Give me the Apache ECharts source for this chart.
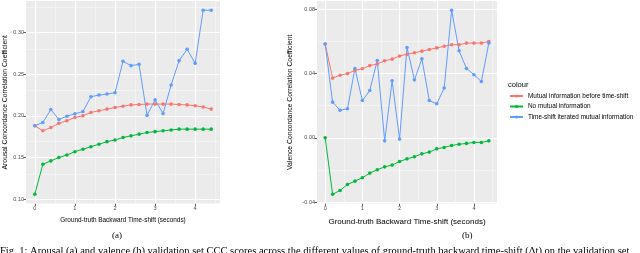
<!DOCTYPE html>
<html><head><meta charset="utf-8">
<script src="https://cdn.jsdelivr.net/npm/echarts@6/dist/echarts.min.js"></script>
<style>html,body{margin:0;padding:0;background:#fff}#c{width:640px;height:253px}</style>
</head><body><div id="c"></div>
<script>
const timeShift = [0,0.2,0.4,0.6,0.8,1.0,1.2,1.4,1.6,1.8,2.0,2.2,2.4,2.6,2.8,3.0,3.2,3.4,3.6,3.8,4.0,4.2,4.4];
const xTicks = [0,1,2,3,4];
const xMinor = [0.5,1.5,2.5,3.5,4.5];
const arousalTicks = [0.10,0.15,0.20,0.25,0.30];
const arousalMinor = [0.125,0.175,0.225,0.275,0.325];
const valenceTicks = [-0.04,0,0.04,0.08];
const valenceMinor = [-0.02,0.02,0.06];
const seriesNames = ['Mutual information before time-shift','No mutual information','Time-shift iterated mutual information'];
const seriesColors = ['#F8766D','#00BA38','#619CFF'];

const arousalMutualBefore = [0.188,0.182,0.186,0.191,0.194,0.198,0.200,0.204,0.206,0.208,0.210,0.2115,0.213,0.2135,0.214,0.214,0.214,0.214,0.2135,0.213,0.212,0.2105,0.208];
const arousalNoMutual = [0.106,0.142,0.146,0.150,0.153,0.157,0.160,0.163,0.166,0.169,0.171,0.174,0.176,0.178,0.180,0.181,0.182,0.183,0.184,0.184,0.184,0.184,0.184];
const arousalIterated = [0.188,0.192,0.2075,0.1955,0.1995,0.2023,0.205,0.2228,0.2248,0.226,0.2276,0.2652,0.260,0.2616,0.2005,0.219,0.2027,0.2368,0.266,0.2796,0.2628,0.3264,0.3264];

const valenceMutualBefore = [0.0584,0.0372,0.0390,0.0400,0.0420,0.0430,0.0450,0.0460,0.0480,0.0490,0.0510,0.0520,0.0530,0.0540,0.0550,0.0560,0.0570,0.0580,0.0580,0.0590,0.0590,0.0590,0.0600];
const valenceNoMutual = [0.000,-0.0352,-0.0328,-0.0291,-0.0270,-0.0249,-0.0220,-0.0199,-0.0181,-0.0170,-0.0148,-0.0131,-0.0118,-0.0100,-0.0089,-0.0069,-0.0060,-0.0048,-0.0040,-0.0035,-0.0029,-0.0029,-0.0019];
const valenceIterated = [0.0584,0.0222,0.0172,0.0181,0.0432,0.0232,0.0295,0.0482,-0.0019,0.0355,-0.0008,0.0563,0.0361,0.0492,0.0232,0.0212,0.0310,0.0795,0.0542,0.0432,0.0393,0.0351,0.0590];

const captionText = 'Fig. 1: Arousal (a) and valence (b) validation set CCC scores across the different values of ground-truth backward time-shift (\u0394t) on the validation set';

function expand(arrs){
  const all=[].concat(...arrs); const mn=Math.min(...all), mx=Math.max(...all); const r=mx-mn;
  return [mn-0.05*r, mx+0.05*r];
}
const xExt = expand([timeShift]);
const aExt = expand([arousalMutualBefore,arousalNoMutual,arousalIterated]);
const vExt = expand([valenceMutualBefore,valenceNoMutual,valenceIterated]);

const FONT='Liberation Sans';
function axis(gridIndex, ext, ticks, isY, name, nameSize, nameGap, labelSize, decimals){
  return {type:'value', gridIndex, min:ext[0], max:ext[1],
    name, nameLocation:'middle', nameGap, nameRotate: isY?90:0,
    nameTextStyle:{fontFamily:FONT, fontSize:nameSize, color:'#000'},
    axisLine:{show:false, onZero:false},
    axisTick:{show:true, customValues:ticks, length:2.5, lineStyle:{color:'#333', width:0.8}},
    axisLabel:{customValues:ticks, fontFamily:FONT, fontSize:labelSize, color:'#4D4D4D', margin:2,
      formatter: v => decimals!=null ? Number(v).toFixed(decimals) : String(Math.round(v))},
    splitLine:{show:false}};
}
function gridLines(xi, yi, xMaj, xMin, yMaj, yMin){
  const major = {color:'#FFFFFF', width:1.2, type:'solid'};
  const minor = {color:'#F7F7F7', width:0.7, type:'solid'};
  const d = [];
  xMin.forEach(v=>d.push({xAxis:v, lineStyle:minor}));
  yMin.forEach(v=>d.push({yAxis:v, lineStyle:minor}));
  xMaj.forEach(v=>d.push({xAxis:v, lineStyle:major}));
  yMaj.forEach(v=>d.push({yAxis:v, lineStyle:major}));
  return {type:'line', xAxisIndex:xi, yAxisIndex:yi, data:[], z:1, silent:true,
    markLine:{silent:true, z:1, symbol:['none','none'], label:{show:false}, animation:false, data:d}};
}
function mk(name, color, data, xi, yi){
  return {type:'line', name, xAxisIndex:xi, yAxisIndex:yi, data: timeShift.map((t,i)=>[t,data[i]]), z:3,
    symbol:'circle', symbolSize:3.6, showSymbol:true, color,
    lineStyle:{width:1, color}, itemStyle:{color}};
}

const chart = echarts.init(document.getElementById('c'), null, {renderer:'canvas'});
chart.setOption({
  animation:false,
  backgroundColor:'#fff',
  grid:[
    {left:26, top:1, width:194, height:202.5, show:true, backgroundColor:'#EBEBEB', borderWidth:0, z:0},
    {left:317, top:1, width:180, height:202.5, show:true, backgroundColor:'#EBEBEB', borderWidth:0, z:0}
  ],
  xAxis:[
    axis(0, xExt, xTicks, false, 'Ground-truth Backward Time-shift (seconds)', 6.4, 14, 5.5, null),
    axis(1, xExt, xTicks, false, 'Ground-truth Backward Time-shift (seconds)', 8, 14, 5.5, null)
  ],
  yAxis:[
    axis(0, aExt, arousalTicks, true, 'Arousal Concordance Correlation Coefficient', 6.8, 17, 5.5, 2),
    axis(1, vExt, valenceTicks, true, 'Valence Concordance Correlation Coefficient', 6.8, 23, 5.5, 2)
  ],
  title:{text:'colour', left:508, top:81, padding:0, textStyle:{fontFamily:FONT, fontSize:7.5, fontWeight:'normal', color:'#000'}},
  legend:{data:seriesNames, orient:'vertical', left:509, top:93, padding:0, itemWidth:13, itemHeight:4, itemGap:4.5,
    textStyle:{fontFamily:FONT, fontSize:6.4, color:'#000'}},
  graphic:[
    {type:'text', left:112, top:231, style:{text:'(a)', font:'9px "Liberation Serif"', fill:'#000'}},
    {type:'text', left:462, top:231, style:{text:'(b)', font:'9px "Liberation Serif"', fill:'#000'}},
    {type:'text', left:0, top:246, style:{text:captionText, font:'10.5px "Liberation Serif"', fill:'#000'}}
  ],
  series:[
    gridLines(0, 0, xTicks, xMinor, arousalTicks, arousalMinor),
    gridLines(1, 1, xTicks, xMinor, valenceTicks, valenceMinor),
    mk(seriesNames[0], seriesColors[0], arousalMutualBefore, 0, 0),
    mk(seriesNames[1], seriesColors[1], arousalNoMutual, 0, 0),
    mk(seriesNames[2], seriesColors[2], arousalIterated, 0, 0),
    mk(seriesNames[0], seriesColors[0], valenceMutualBefore, 1, 1),
    mk(seriesNames[1], seriesColors[1], valenceNoMutual, 1, 1),
    mk(seriesNames[2], seriesColors[2], valenceIterated, 1, 1)
  ]
});
</script></body></html>
